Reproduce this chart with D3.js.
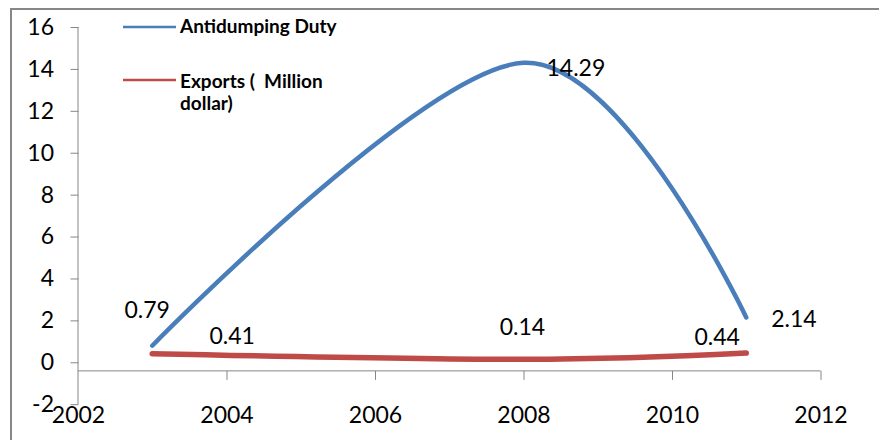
<!DOCTYPE html>
<html>
<head>
<meta charset="utf-8">
<script src="https://cdn.jsdelivr.net/npm/d3@7"></script>
<style>
  html, body { margin: 0; padding: 0; background: #fff; }
  svg { display: block; }
  text { font-family: Lato, "Open Sans", sans-serif; fill: #000; }
</style>
</head>
<body>
<svg id="chart" width="879" height="440"></svg>
<script>
// Series data
const years = [2003, 2008, 2011];
const antidumping = [0.79, 14.29, 2.14];
const exportsMillion = [0.41, 0.14, 0.44];
const seriesNames = ["Antidumping Duty", "Exports (  Million dollar)"];
const seriesColors = ["#4a7ebb", "#be4b48"];

// Axis ticks
const xTicks = [2002, 2004, 2006, 2008, 2010, 2012];
const yTicks = [-2, 0, 2, 4, 6, 8, 10, 12, 14, 16];

const svg = d3.select("#chart");

// Outer chart frame (only top/left edges fall inside the view)
svg.append("rect")
  .attr("x", 11).attr("y", 9)
  .attr("width", 900).attr("height", 460)
  .attr("fill", "none")
  .attr("stroke", "#878787")
  .attr("stroke-width", 2);

const x = d3.scaleLinear().domain([2002, 2012]).range([78, 820.5]);
const y = d3.scaleLinear().domain([-2, 16]).range([404.2, 27]);
const xAxisCross = -0.41; // value where the horizontal axis crosses

const axisColor = "#868686";
const fontSize = 23;

// Y axis
const yAxis = svg.append("g")
  .attr("transform", `translate(${x(2002)},0)`)
  .call(d3.axisLeft(y).tickValues(yTicks).tickSize(8).tickPadding(16).tickFormat(d3.format("d")));
yAxis.select(".domain").attr("stroke", axisColor).attr("d", `M0,${y(-2)}V${y(16)}`);
yAxis.selectAll(".tick line").attr("stroke", axisColor).attr("transform", "translate(0.5,0)");
yAxis.selectAll(".tick text")
  .attr("font-size", fontSize)
  .attr("font-family", "Lato, sans-serif")
  .attr("fill", "#000")
  .text(d => d < 0 ? "-" + Math.abs(d) : d);

// X axis
const xAxis = svg.append("g")
  .attr("transform", `translate(0,${y(xAxisCross)})`)
  .call(d3.axisBottom(x).tickValues(xTicks).tickSize(9).tickPadding(27).tickFormat(d3.format("d")));
xAxis.select(".domain").attr("stroke", axisColor).attr("d", `M${x(2002)},0H${x(2012)}`);
xAxis.selectAll(".tick line").attr("stroke", axisColor)
  .filter(d => d === 2002).remove();
xAxis.selectAll(".tick text")
  .attr("font-size", fontSize)
  .attr("font-family", "Lato, sans-serif")
  .attr("fill", "#000");

// Smoothed series lines
const line = d3.line()
  .x(d => x(d[0]))
  .y(d => y(d[1]))
  .curve(d3.curveCardinal.tension(0));

const antiPts = years.map((yr, i) => [yr, antidumping[i]]);
const expPts = years.map((yr, i) => [yr, exportsMillion[i]]);

svg.append("path")
  .datum(expPts)
  .attr("d", line)
  .attr("fill", "none")
  .attr("stroke", seriesColors[1])
  .attr("stroke-width", 5.5)
  .attr("stroke-linecap", "round");

svg.append("path")
  .datum(antiPts)
  .attr("d", line)
  .attr("fill", "none")
  .attr("stroke", seriesColors[0])
  .attr("stroke-width", 4.5)
  .attr("stroke-linecap", "round");

// Data labels, offset from their points
const antiOffsets = [[-5, -28, "middle"], [23, 13, "start"], [25, 10, "start"]];
const expOffsets = [[80, -10, "middle"], [-1, -24, "middle"], [-29, -8, "middle"]];

function addLabels(pts, offsets) {
  svg.append("g").selectAll("text")
    .data(pts)
    .join("text")
    .attr("x", (d, i) => x(d[0]) + offsets[i][0])
    .attr("y", (d, i) => y(d[1]) + offsets[i][1])
    .attr("text-anchor", (d, i) => offsets[i][2])
    .attr("font-size", fontSize)
    .text(d => d[1]);
}
addLabels(antiPts, antiOffsets);
addLabels(expPts, expOffsets);

// Legend
const legend = svg.append("g");
legend.append("line")
  .attr("x1", 123).attr("x2", 176).attr("y1", 27).attr("y2", 27)
  .attr("stroke", seriesColors[0]).attr("stroke-width", 2.5);
legend.append("text")
  .attr("x", 180).attr("y", 33)
  .attr("font-size", 19).attr("font-weight", "bold")
  .text(seriesNames[0]);
legend.append("line")
  .attr("x1", 123).attr("x2", 176).attr("y1", 80).attr("y2", 80)
  .attr("stroke", seriesColors[1]).attr("stroke-width", 2.5);
const t2 = legend.append("text")
  .attr("x", 180).attr("y", 88)
  .attr("font-size", 19).attr("font-weight", "bold")
  .attr("xml:space", "preserve");
t2.append("tspan").attr("x", 180).text("Exports (  Million");
t2.append("tspan").attr("x", 180).attr("dy", 22).text("dollar)");
</script>
</body>
</html>
